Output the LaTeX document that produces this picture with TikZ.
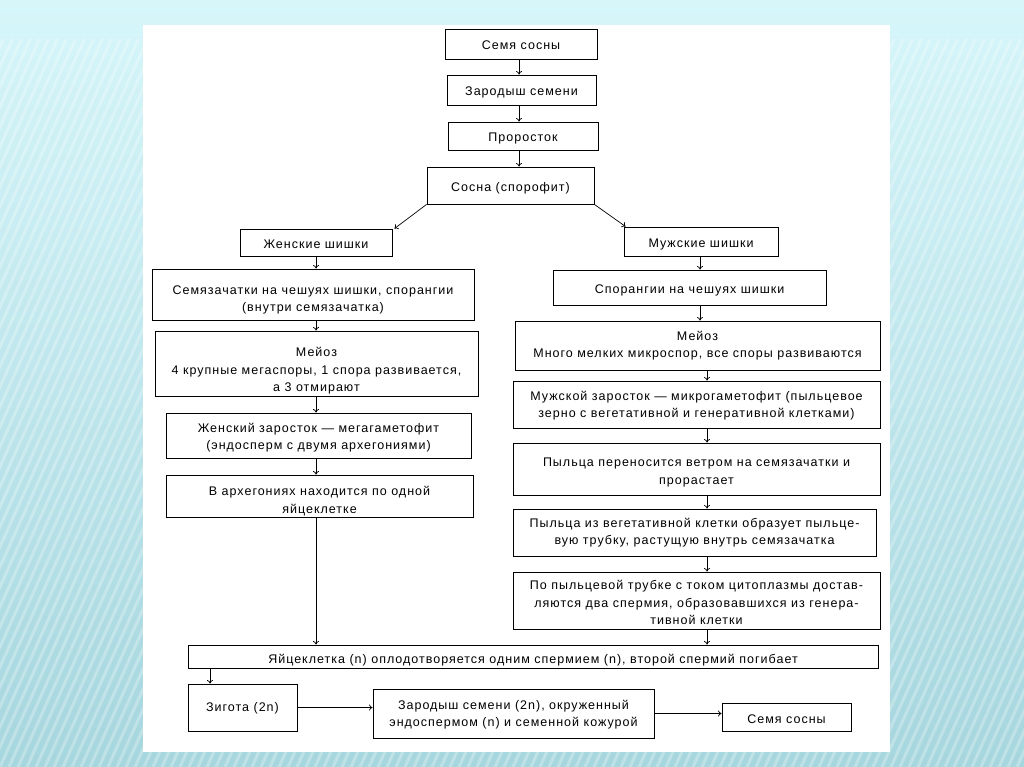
\documentclass[tikz,border=0pt]{standalone}
\usepackage{fontspec}
\setmainfont[LetterSpace=8]{Liberation Sans}
\usetikzlibrary{arrows.meta,calc}
\definecolor{bgtop}{RGB}{214,246,250}
\definecolor{bgbot}{RGB}{166,214,222}
\newcommand{\bx}[2][2.5pt]{\raisebox{-#1}[\height][\depth]{\begin{tabular}{@{}c@{}}#2\end{tabular}}}
\tikzset{
  box/.style={draw=black, line width=0.9pt, fill=white, inner sep=0pt,
    font=\fontsize{12.5}{17.5}\selectfont},
  arr/.style={draw=black, line width=0.7pt, -{To[length=3.5pt,width=6pt]}}
}
\begin{document}
\begin{tikzpicture}[x=1pt,y=-1pt]
\useasboundingbox (0,0) rectangle (1024,767);
% background
\shade[top color=bgtop, bottom color=bgbot] (0,0) rectangle (1024,767);
\begin{scope}
  \clip (0,40) rectangle (1024,767);
  \foreach \i in {-360,-351,...,1030} {
    \draw[white, opacity=0.28, line width=3pt] (\i,767) -- (\i+345,0);
  }
\end{scope}
\fill[white] (143,25) rectangle (890,752);

% top chain
\node[box, minimum width=152, minimum height=30] (b1) at (521,44) {\bx{Семя сосны}};
\node[box, minimum width=149, minimum height=30] (b2) at (521.5,90) {\bx{Зародыш семени}};
\node[box, minimum width=150, minimum height=28] (b3) at (523,136) {\bx{Проросток}};
\node[box, minimum width=167, minimum height=37] (b4) at (510.5,185.5) {\bx{Сосна (спорофит)}};

\node[box, minimum width=152, minimum height=27] (fw) at (316,242.5) {\bx{Женские шишки}};
\node[box, minimum width=154, minimum height=29] (mw) at (701,241.5) {\bx{Мужские шишки}};

% female column
\node[box, minimum width=322, minimum height=51] (f1) at (313,294.5) {\bx[5pt]{Семязачатки на чешуях шишки, спорангии\\(внутри семязачатка)}};
\node[box, minimum width=323, minimum height=65] (f2) at (316.5,363.5) {\bx[7pt]{Мейоз\\4 крупные мегаспоры, 1 спора развивается,\\а 3 отмирают}};
\node[box, minimum width=305, minimum height=45] (f3) at (318.5,435.5) {\bx[2pt]{Женский заросток — мегагаметофит\\(эндосперм с двумя архегониями)}};
\node[box, minimum width=307, minimum height=42] (f4) at (319.5,496) {\bx[5pt]{В архегониях находится по одной\\яйцеклетке}};

% male column
\node[box, minimum width=273, minimum height=35] (m1) at (689.5,287.5) {\bx{Спорангии на чешуях шишки}};
\node[box, minimum width=365, minimum height=49] (m2) at (697.5,345.5) {\bx[0pt]{Мейоз\\Много мелких микроспор, все споры развиваются}};
\node[box, minimum width=367, minimum height=47] (m3) at (696.5,404.5) {\bx[1pt]{Мужской заросток — микрогаметофит (пыльцевое\\зерно с вегетативной и генеративной клетками)}};
\node[box, minimum width=367, minimum height=52] (m4) at (696.5,469) {\bx[3pt]{Пыльца переносится ветром на семязачатки и\\прорастает}};
\node[box, minimum width=363, minimum height=47] (m5) at (694.5,532.5) {\bx[0pt]{Пыльца из вегетативной клетки образует пыльце-\\вую трубку, растущую внутрь семязачатка}};
\node[box, minimum width=367, minimum height=57] (m6) at (696.5,600.5) {\bx[3pt]{По пыльцевой трубке с током цитоплазмы достав-\\ляются два спермия, образовавшихся из генера-\\тивной клетки}};

% bottom
\node[box, minimum width=690, minimum height=23] (eg) at (533,656.5) {\bx[3pt]{Яйцеклетка (n) оплодотворяется одним спермием (n), второй спермий погибает}};
\node[box, minimum width=109, minimum height=47] (zg) at (242.5,707.5) {\bx[0pt]{Зигота (2n)}};
\node[box, minimum width=281, minimum height=49] (zs) at (513.5,713.5) {\bx[1pt]{Зародыш семени (2n), окруженный\\эндоспермом (n) и семенной кожурой}};
\node[box, minimum width=129, minimum height=28] (ss) at (786.5,717) {\bx{Семя сосны}};

% column guide coordinates
\coordinate (cx) at (519,0);
\coordinate (lx) at (316,0);
\coordinate (rx0) at (700,0);
\coordinate (rx) at (707,0);
\coordinate (zx) at (210,0);

% arrows top chain
\draw[arr] (b1.south -| cx) -- (b2.north -| cx);
\draw[arr] (b2.south -| cx) -- (b3.north -| cx);
\draw[arr] (b3.south -| cx) -- (b4.north -| cx);
\draw[arr] (b4.south west) -- ([xshift=2]fw.north east);
\draw[arr] (b4.south east) -- ([xshift=2]mw.north west);

% female arrows
\draw[arr] (fw.south -| lx) -- (f1.north -| lx);
\draw[arr] (f1.south -| lx) -- (f2.north -| lx);
\draw[arr] (f2.south -| lx) -- (f3.north -| lx);
\draw[arr] (f3.south -| lx) -- (f4.north -| lx);
\draw[arr] (f4.south -| lx) -- (eg.north -| lx);

% male arrows
\draw[arr] (mw.south -| rx0) -- (m1.north -| rx0);
\draw[arr] (m1.south -| rx0) -- (m2.north -| rx0);
\draw[arr] (m2.south -| rx) -- (m3.north -| rx);
\draw[arr] (m3.south -| rx) -- (m4.north -| rx);
\draw[arr] (m4.south -| rx) -- (m5.north -| rx);
\draw[arr] (m5.south -| rx) -- (m6.north -| rx);
\draw[arr] (m6.south -| rx) -- (eg.north -| rx);

% bottom arrows
\draw[arr] (eg.south -| zx) -- (zg.north -| zx);
\draw[arr] (zg.east) -- (zg.east -| zs.west);
\draw[arr] (zs.east) -- (zs.east -| ss.west);
\end{tikzpicture}
\end{document}
